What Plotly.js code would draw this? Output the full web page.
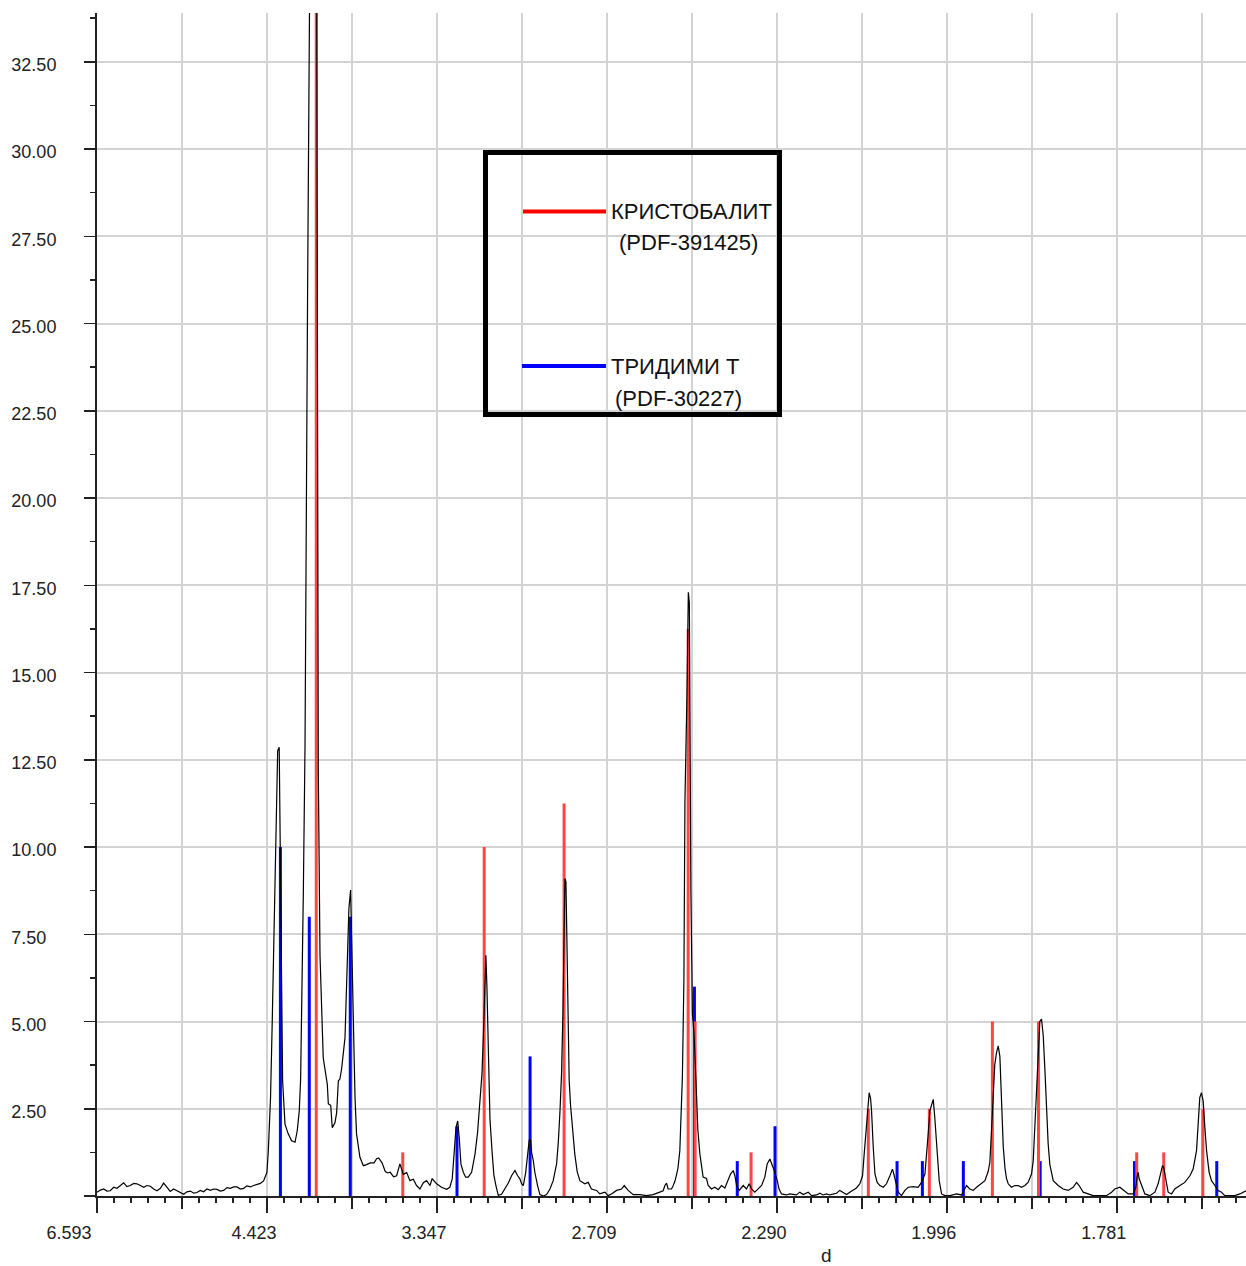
<!DOCTYPE html>
<html><head><meta charset="utf-8">
<script src="https://cdn.plot.ly/plotly-3.0.1.min.js"></script>
<style>html,body{margin:0;padding:0;background:#fff}</style>
</head><body><div id="chart" style="width:1246px;height:1266px"></div>
<script>
// 2-theta (Cr K-alpha) positions of the measured pattern, labelled on the axis by d-spacing
const twoTheta = [
20.00,20.20,20.39,20.59,20.78,20.98,21.18,21.37,21.57,21.76,
21.96,22.16,22.35,22.55,22.75,22.94,23.14,23.33,23.53,23.73,
23.92,24.12,24.31,24.51,24.71,24.90,25.10,25.29,25.49,25.69,
25.88,26.08,26.27,26.47,26.67,26.86,27.06,27.25,27.45,27.65,
27.84,28.04,28.24,28.43,28.63,28.82,29.02,29.22,29.41,29.61,
29.80,29.90,30.00,30.08,30.14,30.21,30.31,30.43,30.53,30.57,
30.63,30.72,30.76,30.86,30.92,31.06,31.25,31.45,31.65,31.78,
31.90,31.98,32.04,32.14,32.24,32.29,32.39,32.53,32.65,32.78,
32.92,33.02,33.12,33.31,33.41,33.55,33.61,33.75,33.84,34.00,
34.10,34.20,34.29,34.39,34.59,34.73,34.82,34.92,34.98,35.08,
35.18,35.27,35.47,35.67,35.86,36.08,36.30,36.45,36.57,36.77,
36.96,37.10,37.25,37.45,37.63,37.82,38.02,38.22,38.41,38.61,
38.80,39.00,39.20,39.39,39.59,39.72,39.98,40.27,40.57,40.76,
40.90,41.02,41.12,41.22,41.31,41.41,41.55,41.69,41.84,42.04,
42.24,42.39,42.53,42.65,42.76,42.82,42.88,42.94,43.00,43.06,
43.12,43.24,43.35,43.47,43.61,43.80,44.00,44.20,44.39,44.59,
44.75,44.88,44.98,45.08,45.22,45.33,45.43,45.51,45.57,45.67,
45.76,45.92,46.06,46.26,46.45,46.65,46.84,47.04,47.14,47.24,
47.33,47.41,47.47,47.53,47.59,47.65,47.71,47.78,47.86,47.92,
48.02,48.11,48.25,48.41,48.70,48.90,49.09,49.39,49.58,49.88,
50.07,50.27,50.57,50.86,51.02,51.25,51.55,51.94,52.33,52.72,
53.11,53.31,53.41,53.51,53.60,53.80,53.90,54.00,54.09,54.18,
54.29,54.35,54.44,54.53,54.59,54.71,54.79,54.85,54.88,54.94,
55.03,55.12,55.24,55.35,55.47,55.57,55.66,55.86,55.96,56.15,
56.35,56.55,56.74,56.94,57.13,57.27,57.43,57.53,57.63,57.78,
58.02,58.21,58.37,58.51,58.70,58.90,59.10,59.29,59.43,59.59,
59.74,59.88,60.02,60.13,60.27,60.57,60.76,61.15,61.35,61.55,
61.84,62.04,62.33,62.53,62.72,62.92,63.12,63.51,63.70,63.90,
64.10,64.29,64.49,64.68,64.88,65.04,65.12,65.21,65.27,65.37,
65.43,65.51,65.57,65.67,65.77,65.90,66.06,66.26,66.45,66.65,
66.80,66.88,67.00,67.14,67.33,67.53,67.73,68.02,68.31,68.51,
68.71,68.80,68.90,69.00,69.10,69.20,69.29,69.35,69.43,69.55,
69.69,69.88,70.18,70.57,70.86,71.16,71.35,71.55,71.75,72.04,
72.24,72.43,72.53,72.63,72.73,72.82,72.92,73.02,73.12,73.22,
73.32,73.42,73.51,73.61,73.80,74.00,74.20,74.39,74.59,74.78,
74.98,75.08,75.18,75.27,75.37,75.47,75.57,75.67,75.77,75.86,
75.96,76.06,76.26,76.55,76.84,77.14,77.43,77.63,77.78,78.02,
78.31,78.61,79.00,79.39,79.69,79.88,80.18,80.41,80.67,80.96,
81.12,81.20,81.26,81.31,81.45,81.65,81.94,82.24,82.43,82.57,
82.69,82.76,82.88,83.02,83.22,83.41,83.71,84.00,84.30,84.49,
84.69,84.79,84.88,84.98,85.08,85.18,85.28,85.43,85.57,85.77,
85.96,86.16,86.35,86.65,86.94,87.24,87.43,87.60
];
const intensity = [
0.11,0.17,0.20,0.14,0.15,0.25,0.22,0.30,0.38,0.27,
0.30,0.36,0.35,0.30,0.25,0.30,0.28,0.20,0.15,0.22,
0.37,0.25,0.13,0.20,0.15,0.10,0.05,0.12,0.14,0.08,
0.10,0.16,0.12,0.20,0.16,0.20,0.19,0.14,0.16,0.24,
0.22,0.26,0.26,0.20,0.22,0.29,0.26,0.30,0.32,0.36,
0.43,0.55,0.68,1.30,2.00,2.82,5.00,8.24,9.95,11.30,
12.76,12.86,11.00,6.63,3.30,2.06,1.78,1.58,1.54,1.87,
2.44,3.35,5.20,8.70,12.95,18.40,25.90,36.0,42.0,41.0,
36.0,12.20,6.90,3.96,3.67,3.20,2.64,2.60,1.96,2.10,
2.39,3.30,3.35,3.64,4.53,6.53,8.24,8.77,7.67,5.10,
2.82,1.78,1.11,0.87,0.90,0.95,0.95,1.07,1.09,0.95,
0.70,0.66,0.68,0.55,0.58,0.92,0.62,0.67,0.44,0.48,
0.30,0.20,0.38,0.44,0.30,0.50,0.35,0.25,0.19,0.25,
0.49,1.20,1.96,2.15,1.68,0.92,0.68,0.54,0.54,0.68,
1.20,1.82,2.60,3.50,5.00,6.20,6.90,6.00,4.50,3.00,
2.20,1.30,0.60,0.30,0.02,0.05,0.20,0.37,0.58,0.73,
0.58,0.49,0.35,0.30,0.67,1.20,1.60,1.60,1.25,1.01,
0.68,0.30,0.04,0.00,0.04,0.20,0.44,0.92,1.54,2.44,
3.50,5.20,7.30,9.10,9.00,7.00,4.80,3.30,2.60,2.20,
1.60,1.20,0.70,0.44,0.35,0.39,0.20,0.16,0.06,0.11,
0.01,0.06,0.16,0.20,0.30,0.16,0.04,0.04,0.01,0.04,
0.11,0.15,0.30,0.37,0.20,0.20,0.30,0.42,0.60,0.80,
1.30,2.00,3.40,6.20,11.30,14.40,17.30,17.00,14.60,8.80,
5.20,4.70,3.30,1.90,1.20,0.82,0.54,0.50,0.30,0.20,
0.25,0.18,0.30,0.23,0.44,0.63,0.73,0.58,0.30,0.16,
0.30,0.20,0.35,0.20,0.11,0.20,0.30,0.54,0.92,1.06,
0.87,0.68,0.44,0.20,0.06,0.03,0.06,0.03,0.11,0.04,
0.11,0.01,0.03,0.08,0.03,0.06,0.03,0.08,0.16,0.11,
0.04,0.11,0.16,0.23,0.35,0.58,1.10,1.68,2.20,2.60,
2.96,2.80,2.44,1.39,0.63,0.39,0.30,0.25,0.35,0.58,
0.77,0.63,0.35,0.11,0.01,0.16,0.25,0.27,0.25,0.39,
0.63,1.10,1.77,2.44,2.63,2.77,2.25,1.77,1.10,0.44,
0.06,0.01,0.01,0.06,0.03,0.30,0.20,0.16,0.25,0.35,
0.44,0.70,0.96,1.90,2.80,3.77,4.10,4.30,4.00,2.60,
1.40,0.80,0.50,0.35,0.25,0.30,0.30,0.25,0.30,0.39,
0.63,1.00,2.00,3.20,4.30,5.00,5.07,4.60,3.60,2.50,
1.50,0.90,0.44,0.30,0.20,0.16,0.25,0.39,0.30,0.11,
0.06,0.01,0.01,0.01,0.11,0.20,0.25,0.16,0.06,0.06,
0.25,0.58,0.68,0.50,0.30,0.06,0.01,0.11,0.35,0.63,
0.87,0.82,0.53,0.11,0.06,0.20,0.30,0.39,0.58,0.77,
1.30,1.96,2.82,2.96,2.72,1.96,1.30,0.68,0.44,0.30,
0.16,0.11,0.01,0.01,0.01,0.06,0.11,0.15
];
// reference stick patterns
const cristobalitePos = [32.90,37.99,42.78,47.48,54.78,55.19,58.48,65.38,68.97,72.68,75.39,81.17,82.76,85.06];
const cristobaliteInt = [100,1.25,10,11.25,16.25,5,1.25,2.5,2.5,5,5,1.25,1.25,2.5];
const tridymitePos = [30.79,32.49,34.90,41.18,45.48,55.15,57.67,59.89,67.07,68.56,70.97,75.49,81.04,85.88];
const tridymiteInt = [10,8,8,2,4,6,1,2,1,1,1,1,1,1];
// axis ticks
const xTickPos = [20,25,30,35,40,45,50,55,60,65,70,75,80,85];
const xTickLabels = ['6.593\u2007\u2007\u2007','','4.423','','3.347','','2.709','','2.290','','1.996','','1.781',''];
const xLongTickPos = [20,30,40,50,60,70,80];
const yTickPos = [0,2.5,5,7.5,10,12.5,15,17.5,20,22.5,25,27.5,30,32.5];
const yTickLabels = ['','2.50\u2007','5.00\u2007','7.50\u2007','10.00','12.50','15.00','17.50','20.00','22.50','25.00','27.50','30.00','32.50'];
const legendNames = ['КРИСТОБАЛИТ','(PDF-391425)','ТРИДИМИ Т','(PDF-30227)'];

function sticks(pos, h){
  const x=[], y=[];
  pos.forEach((p,i)=>{ x.push(p,p,null); y.push(0,h[i],null); });
  return {x, y};
}
const tr = sticks(tridymitePos, tridymiteInt);
const cr = sticks(cristobalitePos, cristobaliteInt);

const ink = '#222';
const traces = [
  {x: tr.x, y: tr.y, type:'scatter', mode:'lines', line:{color:'#0000ff', width:3}, hoverinfo:'skip', showlegend:false},
  {x: cr.x, y: cr.y, type:'scatter', mode:'lines', line:{color:'#ff4646', width:3}, hoverinfo:'skip', showlegend:false},
  {x: twoTheta, y: intensity, type:'scatter', mode:'lines', line:{color:'#000', width:1.2}, hoverinfo:'skip', showlegend:false},
  {x:[20], y:[0], xaxis:'x2', type:'scatter', mode:'markers', marker:{opacity:0}, hoverinfo:'skip', showlegend:false}
];

const L = 97, T = 13, PW = 1149, PH = 1183;
const px = v => (v - L)/PW, py = v => (T + PH - v)/PH;

const layout = {
  width:1246, height:1266,
  margin:{l:L, r:0, t:T, b:1266-T-PH, pad:0},
  paper_bgcolor:'#fff', plot_bgcolor:'#fff', showlegend:false,
  font:{family:'"Liberation Sans", Arial, sans-serif', size:18, color:ink},
  xaxis:{range:[20,87.6], tickmode:'array', tickvals:xTickPos, ticktext:xTickLabels,
    ticks:'outside', ticklen:11, tickwidth:1.5, tickcolor:ink,
    showline:true, linecolor:ink, linewidth:2, mirror:false,
    showgrid:true, gridcolor:'#d3d3d3', gridwidth:2, zeroline:false,
    ticklabelshift:-13, ticklabelstandoff:8,
    minor:{tick0:0, dtick:1, ticks:'outside', ticklen:5, tickwidth:1.5, tickcolor:ink, showgrid:false},
    fixedrange:true},
  xaxis2:{overlaying:'x', anchor:'y', side:'bottom', range:[20,87.6], tickmode:'array',
    tickvals:xLongTickPos, ticks:'outside', ticklen:16, tickwidth:1.5, tickcolor:ink,
    showticklabels:false, showgrid:false, showline:false, zeroline:false, fixedrange:true},
  yaxis:{range:[0,33.9], tickmode:'array', tickvals:yTickPos, ticktext:yTickLabels,
    ticks:'outside', ticklen:11, tickwidth:1.5, tickcolor:ink,
    showline:true, linecolor:ink, linewidth:2,
    showgrid:true, gridcolor:'#d3d3d3', gridwidth:2, zeroline:false,
    ticklabelstandoff:24, ticklabelshift:3,
    minor:{tick0:0, dtick:1.25, ticks:'outside', ticklen:5, tickwidth:1.5, tickcolor:ink, showgrid:false},
    fixedrange:true},
  shapes:[
    {type:'rect', xref:'paper', yref:'paper', x0:px(485.5), x1:px(779.5), y0:py(414.5), y1:py(152.5),
     line:{color:'#000', width:5}, fillcolor:'rgba(0,0,0,0)'},
    {type:'line', xref:'paper', yref:'paper', x0:px(523), x1:px(606), y0:py(211.5), y1:py(211.5), line:{color:'#ff0000', width:4}},
    {type:'line', xref:'paper', yref:'paper', x0:px(522), x1:px(606), y0:py(366), y1:py(366), line:{color:'#0000ff', width:4}}
  ],
  annotations:[
    {xref:'paper', yref:'paper', x:px(691), y:py(211), text:legendNames[0], showarrow:false, xanchor:'center', yanchor:'middle', font:{size:22, color:'#111'}},
    {xref:'paper', yref:'paper', x:px(688.5), y:py(242), text:legendNames[1], showarrow:false, xanchor:'center', yanchor:'middle', font:{size:22, color:'#111'}},
    {xref:'paper', yref:'paper', x:px(675), y:py(366), text:legendNames[2], showarrow:false, xanchor:'center', yanchor:'middle', font:{size:22, color:'#111'}},
    {xref:'paper', yref:'paper', x:px(678.5), y:py(398), text:legendNames[3], showarrow:false, xanchor:'center', yanchor:'middle', font:{size:22, color:'#111'}},
    {xref:'paper', yref:'paper', x:px(826.5), y:py(1255), text:'d', showarrow:false, xanchor:'center', yanchor:'middle', font:{size:19, color:ink}}
  ]
};

Plotly.newPlot('chart', traces, layout, {displayModeBar:false, staticPlot:true});
</script>
</body></html>
